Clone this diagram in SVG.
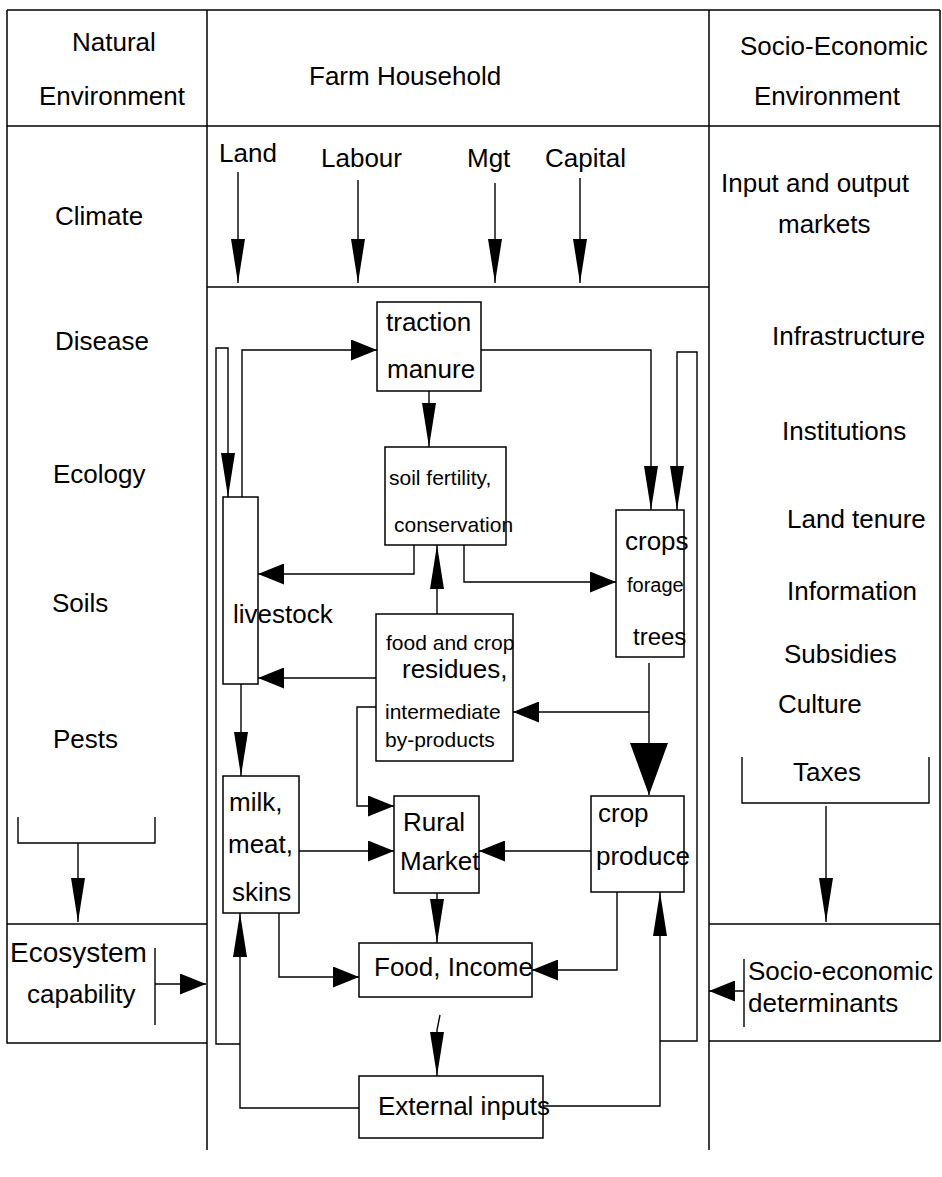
<svg xmlns="http://www.w3.org/2000/svg" width="942" height="1177" viewBox="0 0 942 1177">
<style>
text{font-family:"Liberation Sans",Arial,sans-serif;font-size:26px;fill:#000}
.s{font-size:21px}
.box{fill:#fff;stroke:#000;stroke-width:1.5}
.ln{fill:none;stroke:#000;stroke-width:1.4}
.fr{fill:none;stroke:#000;stroke-width:1.5}
.av{marker-end:url(#av)}
.ah{marker-end:url(#ah)}
</style>
<defs>
<marker id="av" viewBox="0 0 44 14" refX="44" refY="7" markerWidth="44" markerHeight="14" markerUnits="userSpaceOnUse" orient="auto"><path d="M0,0 L44,7 L0,14 z" fill="#000"/></marker>
<marker id="ah" viewBox="0 0 26 21" refX="26" refY="10.5" markerWidth="26" markerHeight="21" markerUnits="userSpaceOnUse" orient="auto"><path d="M0,0 L26,10.5 L0,21 z" fill="#000"/></marker>
<marker id="abig" viewBox="0 0 52 38" refX="52" refY="19" markerWidth="52" markerHeight="38" markerUnits="userSpaceOnUse" orient="auto"><path d="M0,0 L52,19 L0,38 z" fill="#000"/></marker>
</defs>
<rect width="942" height="1177" fill="#fff"/>
<g id="frame" class="fr">
<path d="M7,10 H940 M7,10 V1043 H207 M207,10 V1150 M709,10 V1150 M940,10 V1041 H709 M7,126 H940 M207,287 H709 M7,924 H207 M709,924 H940"/>
</g>
<g id="natural-environment">
<text x="72" y="51">Natural</text>
<text x="39" y="105">Environment</text>
<text x="55" y="225">Climate</text>
<text x="55" y="350">Disease</text>
<text x="53" y="483">Ecology</text>
<text x="52" y="612">Soils</text>
<text x="53" y="748">Pests</text>
</g>
<g id="ecosystem">
<text x="10" y="962" style="font-size:28px">Ecosystem</text>
<text x="27" y="1003">capability</text>
</g>
<g id="farm-household">
<text x="309" y="85">Farm Household</text>
<text x="219" y="162">Land</text>
<text x="321" y="167">Labour</text>
<text x="467" y="167">Mgt</text>
<text x="545" y="167">Capital</text>
</g>
<g id="socio-environment">
<text x="740" y="55">Socio-Economic</text>
<text x="754" y="105">Environment</text>
<text x="721" y="192">Input and output</text>
<text x="778" y="233">markets</text>
<text x="772" y="345">Infrastructure</text>
<text x="782" y="440">Institutions</text>
<text x="787" y="528">Land tenure</text>
<text x="787" y="600">Information</text>
<text x="784" y="663">Subsidies</text>
<text x="778" y="713">Culture</text>
<text x="793" y="781">Taxes</text>
</g>
<g id="socio-determinants">
<text x="748" y="980">Socio-economic</text>
<text x="748" y="1012">determinants</text>
</g>
<g id="traction">
<rect class="box" x="377" y="302" width="104" height="89"/>
<text x="386" y="331">traction</text>
<text x="387" y="378">manure</text>
</g>
<g id="soil">
<rect class="box" x="385" y="447" width="121" height="98"/>
<text class="s" x="389" y="485">soil fertility,</text>
<text class="s" x="394" y="532">conservation</text>
</g>
<g id="livestock">
<rect class="box" x="223" y="497" width="35" height="187"/>
<text x="233" y="623">livestock</text>
</g>
<g id="crops">
<rect class="box" x="616" y="510" width="68" height="147"/>
<text x="625" y="550">crops</text>
<text x="627" y="592" style="font-size:20px">forage</text>
<text x="633" y="645" style="font-size:24px">trees</text>
</g>
<g id="residues">
<rect class="box" x="376" y="614" width="137" height="147"/>
<text class="s" x="386" y="650">food and crop</text>
<text x="402" y="678">residues,</text>
<text class="s" x="385" y="719">intermediate</text>
<text class="s" x="385" y="747">by-products</text>
</g>
<g id="milk">
<rect class="box" x="223" y="776" width="76" height="137"/>
<text x="229" y="811">milk,</text>
<text x="228" y="853">meat,</text>
<text x="232" y="901">skins</text>
</g>
<g id="rural-market">
<rect class="box" x="394" y="796" width="85" height="97"/>
<text x="403" y="831">Rural</text>
<text x="400" y="870">Market</text>
</g>
<g id="crop-produce">
<rect class="box" x="591" y="796" width="93" height="96"/>
<text x="598" y="822">crop</text>
<text x="596" y="865">produce</text>
</g>
<g id="food-income">
<rect class="box" x="359" y="943" width="173" height="54"/>
<text x="374" y="976">Food, Income</text>
</g>
<g id="external-inputs">
<rect class="box" x="359" y="1076" width="184" height="62"/>
<text x="378" y="1115">External inputs</text>
</g>
<g id="connectors" class="ln">
<path class="av" d="M238,172 V283"/>
<path class="av" d="M358,180 V283"/>
<path class="av" d="M495,183 V283"/>
<path class="av" d="M580,178 V283"/>
<path class="av" d="M240,1044 H216 V348 H228 V497"/>
<path class="ah" d="M242,497 V350 H377"/>
<path class="av" d="M481,350 H651 V510"/>
<path class="av" d="M660,1041 H697 V352 H677 V510"/>
<path class="av" d="M429,391 V447"/>
<path class="ah" d="M414,545 V574 H258"/>
<path class="ah" d="M464,545 V582 H616"/>
<path class="av" d="M437,614 V545"/>
<path class="ah" d="M376,678 H258"/>
<path d="M649,663 V795" marker-end="url(#abig)"/>
<path class="ah" d="M649,712 H513"/>
<path class="ah" d="M376,707 H357 V806 H394"/>
<path class="av" d="M241,684 V776"/>
<path class="ah" d="M299,851 H394"/>
<path class="ah" d="M591,851 H479"/>
<path class="av" d="M437,893 V943"/>
<path class="ah" d="M279,913 V977 H359"/>
<path class="ah" d="M617,892 V970 H532"/>
<path class="av" d="M440,1015 L437,1030 V1076"/>
<path class="av" d="M359,1108 H240 V913"/>
<path class="av" d="M543,1106 H660 V892"/>
<path d="M18,817 V843 H155 V817"/>
<path class="av" d="M78,843 V922"/>
<path d="M742,757 V803 H929 V757"/>
<path class="av" d="M826,806 V922"/>
<path d="M155,948 V1025"/>
<path class="ah" d="M155,984 H206"/>
<path d="M744,959 V1027"/>
<path class="ah" d="M744,991 H709"/>
</g>
</svg>
